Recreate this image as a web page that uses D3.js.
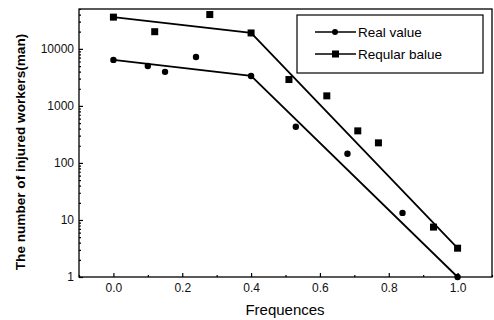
<!DOCTYPE html>
<html>
<head>
<meta charset="utf-8">
<script src="https://cdn.jsdelivr.net/npm/d3@7"></script>
<style>
  body { margin: 0; background: #fff; }
  svg { display: block; font-family: "Liberation Sans", Arial, sans-serif; }
</style>
</head>
<body>
<svg id="chart" width="494" height="320"></svg>
<script>
// fitted lines (real value / regular value)
const realLineX = [0.0, 0.4, 1.0];
const realLineY = [6400, 3350, 1];
const regLineX = [0.0, 0.4, 1.0];
const regLineY = [36000, 19000, 3.2];

// scattered observations
const realPtsX = [0.10, 0.15, 0.24, 0.53, 0.68, 0.84];
const realPtsY = [5000, 3950, 7200, 430, 145, 13.3];
const regPtsX = [0.12, 0.28, 0.51, 0.62, 0.71, 0.77, 0.93];
const regPtsY = [20000, 40000, 2900, 1500, 365, 225, 7.5];

const xTicks = [0.0, 0.2, 0.4, 0.6, 0.8, 1.0];
const xMinor = [-0.1, 0.1, 0.3, 0.5, 0.7, 0.9, 1.1];
const yTicks = [1, 10, 100, 1000, 10000];
const legendLabels = ["Real value", "Reqular balue"];

const plotL = 79, plotR = 492, plotT = 9, plotB = 277;

const svg = d3.select("#chart");

const x = d3.scaleLinear().domain([-0.1, 1.1]).range([plotL, plotR]);
const y = d3.scaleLog().domain([1, 50000]).range([plotB, plotT]);

// frame
svg.append("rect")
  .attr("x", plotL).attr("y", plotT)
  .attr("width", plotR - plotL).attr("height", plotB - plotT)
  .attr("fill", "none").attr("stroke", "#000").attr("stroke-width", 1.3);

// x axis
const xAxis = svg.append("g")
  .attr("transform", "translate(0," + plotB + ")")
  .call(d3.axisBottom(x).tickValues(xTicks).tickFormat(d3.format(".1f")).tickSizeInner(-4).tickSizeOuter(0).tickPadding(6));
xAxis.select(".domain").remove();
xAxis.selectAll("text").attr("font-size", 12).attr("fill", "#111");

svg.append("g")
  .attr("transform", "translate(0," + plotB + ")")
  .call(d3.axisBottom(x).tickValues(xMinor).tickFormat("").tickSizeInner(-2).tickSizeOuter(0))
  .select(".domain").remove();

// y axis
const yAxis = svg.append("g")
  .attr("transform", "translate(" + plotL + ",0)")
  .call(d3.axisLeft(y).tickValues(yTicks).tickFormat(d3.format("d")).tickSizeInner(-4).tickSizeOuter(0).tickPadding(5));
yAxis.select(".domain").remove();
yAxis.selectAll("text").attr("font-size", 12).attr("fill", "#111");

const yMinor = y.ticks().filter(d => yTicks.indexOf(d) < 0);
svg.append("g")
  .attr("transform", "translate(" + plotL + ",0)")
  .call(d3.axisLeft(y).tickValues(yMinor).tickFormat("").tickSizeInner(-2).tickSizeOuter(0))
  .select(".domain").remove();

svg.selectAll(".tick line").attr("stroke-width", 1.2);

// lines
const line = d3.line().x(d => x(d[0])).y(d => y(d[1]));
const realLine = d3.zip(realLineX, realLineY);
const regLine = d3.zip(regLineX, regLineY);

svg.append("path").datum(realLine).attr("d", line)
  .attr("fill", "none").attr("stroke", "#000").attr("stroke-width", 1.8);
svg.append("path").datum(regLine).attr("d", line)
  .attr("fill", "none").attr("stroke", "#000").attr("stroke-width", 1.8);

// markers
const circles = realLine.concat(d3.zip(realPtsX, realPtsY));
svg.selectAll(".dot").data(circles).enter().append("circle")
  .attr("cx", d => x(d[0])).attr("cy", d => y(d[1])).attr("r", 3.2).attr("fill", "#000");

const squares = regLine.concat(d3.zip(regPtsX, regPtsY));
svg.selectAll(".sq").data(squares).enter().append("rect")
  .attr("x", d => x(d[0]) - 3.5).attr("y", d => y(d[1]) - 3.5)
  .attr("width", 7).attr("height", 7).attr("fill", "#000");

// legend
const lg = svg.append("g");
lg.append("rect").attr("x", 297).attr("y", 15).attr("width", 186).attr("height", 58)
  .attr("fill", "#fff").attr("stroke", "#000").attr("stroke-width", 1.2);
legendLabels.forEach((t, i) => {
  const ly = 32 + i * 22;
  lg.append("line").attr("x1", 315).attr("x2", 356).attr("y1", ly).attr("y2", ly)
    .attr("stroke", "#000").attr("stroke-width", 1.6);
  if (i === 0) lg.append("circle").attr("cx", 335).attr("cy", ly).attr("r", 3).attr("fill", "#000");
  else lg.append("rect").attr("x", 332).attr("y", ly - 3.5).attr("width", 7).attr("height", 7).attr("fill", "#000");
  lg.append("text").attr("x", 358).attr("y", ly + 5).attr("font-size", 13.5).text(t);
});

// axis titles
svg.append("text").attr("x", 285).attr("y", 315).attr("text-anchor", "middle")
  .attr("font-size", 15).text("Frequences");
svg.append("text").attr("transform", "translate(25,152) rotate(-90)")
  .attr("text-anchor", "middle").attr("font-size", 13.6).attr("font-weight", "bold")
  .text("The number of injured workers(man)");
</script>
</body>
</html>
